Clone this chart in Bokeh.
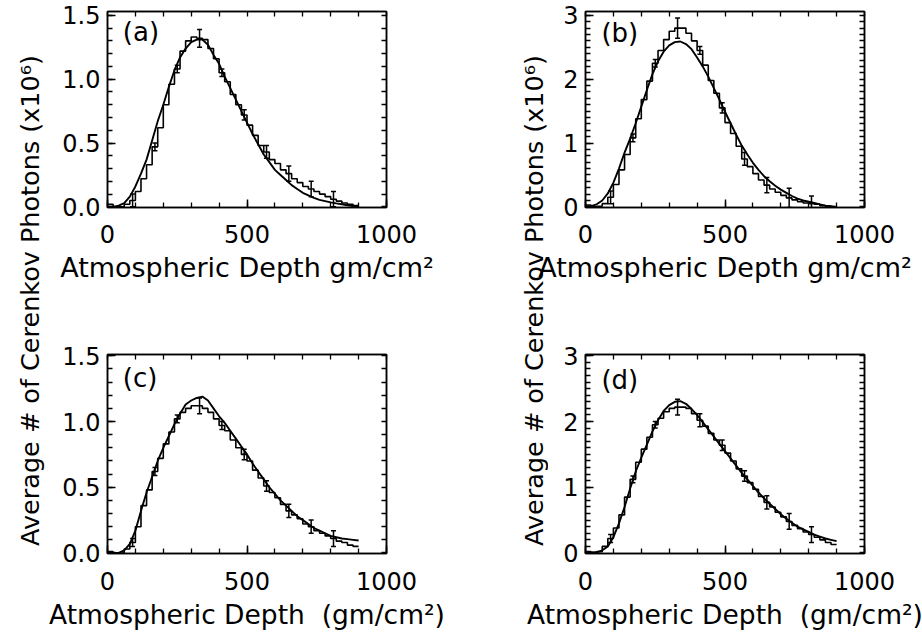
from bokeh.plotting import figure
from bokeh.layouts import row, column
from bokeh.models import (Range1d, LinearAxis, Label, Whisker, ColumnDataSource,
                          TeeHead, SingleIntervalTicker, FixedTicker, PrintfTickFormatter)
from bokeh.embed import file_html
from bokeh.resources import INLINE

FONT = "DejaVu Sans"

# ---------------- data ----------------
bin_edges = list(range(0, 920, 20))          # 0 .. 900, bins of 20 gm/cm^2
curve_depth = list(range(0, 920, 20))        # 0 .. 900
errbar_depth = [90, 170, 250, 330, 410, 490, 570, 650, 730, 810]

hist_a = [0.02, 0.0, 0.0, 0.02, 0.05, 0.12, 0.22, 0.33, 0.47, 0.62, 0.80, 0.96, 1.08, 1.22, 1.30,
          1.33, 1.32, 1.31, 1.24, 1.16, 1.05, 0.98, 0.88, 0.80, 0.72, 0.64, 0.56, 0.48, 0.43, 0.37,
          0.34, 0.29, 0.26, 0.22, 0.19, 0.16, 0.14, 0.12, 0.10, 0.08, 0.06, 0.045, 0.03, 0.02, 0.01]
curve_a = [0.0, 0.0, 0.01, 0.03, 0.08, 0.16, 0.26, 0.37, 0.52, 0.67, 0.80, 0.94, 1.07, 1.17, 1.24,
           1.29, 1.31, 1.31, 1.27, 1.19, 1.12, 1.02, 0.93, 0.84, 0.75, 0.66, 0.57, 0.49, 0.41, 0.35,
           0.29, 0.25, 0.21, 0.17, 0.14, 0.11, 0.09, 0.07, 0.055, 0.045, 0.035, 0.027, 0.02, 0.013,
           0.007, 0.0]
err_a = [0.05, 0.03, 0.03, 0.07, 0.03, 0.04, 0.05, 0.06, 0.06, 0.06]

hist_b = [0.03, 0.0, 0.01, 0.05, 0.15, 0.35, 0.58, 0.82, 1.08, 1.38, 1.68, 1.97, 2.25, 2.45, 2.62,
          2.75, 2.80, 2.80, 2.72, 2.60, 2.45, 2.22, 1.98, 1.78, 1.55, 1.32, 1.15, 0.95, 0.75, 0.63,
          0.52, 0.42, 0.34, 0.28, 0.23, 0.18, 0.14, 0.11, 0.08, 0.06, 0.05, 0.04, 0.02, 0.01, 0.0]
curve_b = [0.0, 0.01, 0.04, 0.10, 0.21, 0.38, 0.60, 0.85, 1.07, 1.31, 1.57, 1.83, 2.08, 2.28, 2.43,
           2.53, 2.58, 2.59, 2.55, 2.47, 2.34, 2.20, 2.04, 1.86, 1.68, 1.49, 1.31, 1.13, 0.96, 0.82,
           0.69, 0.58, 0.48, 0.40, 0.33, 0.27, 0.22, 0.17, 0.13, 0.10, 0.08, 0.06, 0.04, 0.02, 0.01,
           0.0]
err_b = [0.10, 0.06, 0.06, 0.16, 0.06, 0.08, 0.10, 0.12, 0.15, 0.12]

hist_c = [0.01, 0.0, 0.0, 0.03, 0.08, 0.20, 0.36, 0.48, 0.62, 0.72, 0.83, 0.92, 1.02, 1.07, 1.10,
          1.12, 1.12, 1.10, 1.07, 1.02, 0.97, 0.93, 0.86, 0.80, 0.75, 0.70, 0.63, 0.57, 0.51, 0.46,
          0.42, 0.37, 0.32, 0.29, 0.26, 0.22, 0.20, 0.17, 0.15, 0.13, 0.11, 0.09, 0.08, 0.06, 0.05]
curve_c = [0.0, 0.0, 0.0, 0.02, 0.07, 0.17, 0.32, 0.46, 0.58, 0.70, 0.80, 0.89, 0.98, 1.06, 1.13,
           1.16, 1.18, 1.19, 1.16, 1.10, 1.04, 0.99, 0.93, 0.87, 0.81, 0.75, 0.68, 0.62, 0.56, 0.50,
           0.45, 0.40, 0.36, 0.32, 0.28, 0.25, 0.22, 0.19, 0.17, 0.15, 0.13, 0.12, 0.11, 0.105, 0.10,
           0.095]
err_c = [0.03, 0.03, 0.03, 0.06, 0.03, 0.04, 0.04, 0.05, 0.05, 0.06]

hist_d = [0.02, 0.01, 0.02, 0.10, 0.22, 0.38, 0.58, 0.85, 1.12, 1.38, 1.58, 1.76, 1.95, 2.05, 2.15,
          2.20, 2.22, 2.22, 2.20, 2.12, 2.02, 1.93, 1.82, 1.72, 1.64, 1.52, 1.40, 1.28, 1.17, 1.07,
          0.97, 0.86, 0.77, 0.70, 0.62, 0.55, 0.48, 0.42, 0.37, 0.32, 0.28, 0.24, 0.20, 0.16, 0.13]
curve_d = [0.0, 0.0, 0.01, 0.04, 0.10, 0.24, 0.45, 0.70, 0.98, 1.24, 1.45, 1.65, 1.85, 2.02, 2.16,
           2.25, 2.30, 2.31, 2.27, 2.19, 2.10, 1.99, 1.88, 1.77, 1.66, 1.55, 1.44, 1.33, 1.22, 1.12,
           1.02, 0.92, 0.83, 0.75, 0.67, 0.59, 0.52, 0.46, 0.40, 0.36, 0.32, 0.28, 0.25, 0.22, 0.20,
           0.18]
err_d = [0.06, 0.05, 0.05, 0.12, 0.10, 0.08, 0.08, 0.10, 0.12, 0.12]

panel_tags = ["(a)", "(b)", "(c)", "(d)"]
xtitle_top = "Atmospheric Depth gm/cm²"
xtitle_bottom = "Atmospheric Depth\u00a0\u00a0(gm/cm²)"
ytitle = "Average # of Cerenkov Photons (x10⁶)"

x_minor = [i * 100 for i in range(11)]
y_minor_small = [round(i * 0.1, 1) for i in range(16)]
y_minor_big = [round(i * 0.1, 1) for i in range(31)]


def mirror_axis(minors):
    # tick marks only (IDL-style box ticks on the top / right edges)
    return LinearAxis(ticker=FixedTicker(ticks=[], minor_ticks=minors),
                      major_tick_in=0, major_tick_out=0, minor_tick_in=5, minor_tick_out=0,
                      major_label_standoff=0, axis_line_width=1.5, minor_tick_line_width=1.3)


def panel(width, height, borders, yr, yint, ynminor, yfmt, yminors, hist, curve, err, tag,
          tag_xy, xtitle, xtitle_size, lab_standoff, title_standoff):
    bl, br, bt, bb = borders
    p = figure(width=width, height=height, x_range=Range1d(0, 1000), y_range=Range1d(*yr),
               output_backend="svg", toolbar_location=None,
               min_border_left=bl, min_border_right=br, min_border_top=bt, min_border_bottom=bb,
               x_axis_type=None, y_axis_type=None)
    p.grid.visible = False
    p.outline_line_color = "black"
    p.outline_line_width = 1.5
    p.border_fill_alpha = 0.0

    xt = SingleIntervalTicker(interval=500, num_minor_ticks=5)
    yt = SingleIntervalTicker(interval=yint, num_minor_ticks=ynminor)

    xa = LinearAxis(ticker=xt, axis_label=xtitle,
                    major_label_text_font=FONT, major_label_text_font_size="24px",
                    axis_label_text_font=FONT, axis_label_text_font_size=xtitle_size,
                    axis_label_text_font_style="normal",
                    major_label_standoff=lab_standoff, axis_label_standoff=title_standoff,
                    major_tick_in=8, major_tick_out=0, minor_tick_in=5, minor_tick_out=0,
                    axis_line_width=1.5, major_tick_line_width=1.5, minor_tick_line_width=1.3,
                    major_label_text_color="black", axis_label_text_color="black")
    ya = LinearAxis(ticker=yt, formatter=yfmt,
                    major_label_text_font=FONT, major_label_text_font_size="24px",
                    major_label_standoff=7,
                    major_tick_in=8, major_tick_out=0, minor_tick_in=5, minor_tick_out=0,
                    axis_line_width=1.5, major_tick_line_width=1.5, minor_tick_line_width=1.3,
                    major_label_text_color="black")
    p.add_layout(xa, "below")
    p.add_layout(ya, "left")
    p.add_layout(mirror_axis(x_minor), "above")
    p.add_layout(mirror_axis(yminors), "right")

    # histogram
    p.step(x=bin_edges, y=hist + [hist[-1]], mode="after", line_color="black", line_width=1.6)
    # smooth fit curve
    p.line(x=curve_depth, y=curve, line_color="black", line_width=1.9)
    # error bars
    centers = [b + 10 for b in bin_edges[:-1]]
    vals = [hist[centers.index(d)] for d in errbar_depth]
    src = ColumnDataSource(dict(base=errbar_depth,
                                lower=[v - e for v, e in zip(vals, err)],
                                upper=[v + e for v, e in zip(vals, err)]))
    w = Whisker(source=src, base="base", lower="lower", upper="upper", line_color="black",
                line_width=1.5,
                upper_head=TeeHead(size=5, line_color="black", line_width=1.5),
                lower_head=TeeHead(size=5, line_color="black", line_width=1.5))
    p.add_layout(w)

    p.add_layout(Label(x=tag_xy[0], y=tag_xy[1], text=tag, text_font=FONT,
                       text_font_size="26px", text_baseline="middle", text_color="black"))
    return p


def strip(width, height, cx, cy):
    s = figure(width=width, height=height, x_range=Range1d(0, width), y_range=Range1d(0, height),
               output_backend="svg", toolbar_location=None, min_border=0,
               x_axis_type=None, y_axis_type=None)
    s.grid.visible = False
    s.outline_line_color = None
    s.add_layout(Label(x=cx, y=cy, text=ytitle, angle=90, angle_units="deg",
                       text_align="center", text_baseline="middle", text_font=FONT,
                       text_font_size="25.5px", text_color="black"))
    return s


fmt1 = PrintfTickFormatter(format="%.1f")
fmt0 = PrintfTickFormatter(format="%d")

pa = panel(518, 300, (107, 132, 11, 93), (-0.005, 1.53), 0.5, 5, fmt1, y_minor_small,
           hist_a, curve_a, err_a, panel_tags[0], (55, 1.37), xtitle_top, "27px", 17, 6)
pc = panel(518, 332, (107, 132, 54, 79), (-0.004, 1.51), 0.5, 5, fmt1, y_minor_small,
           hist_c, curve_c, err_c, panel_tags[2], (55, 1.33), xtitle_bottom, "26.5px", 18, 6)
pb = panel(404, 300, (67, 58, 11, 93), (-0.01, 3.06), 1, 10, fmt0, y_minor_big,
           hist_b, curve_b, err_b, panel_tags[1], (57, 2.72), xtitle_top, "27px", 17, 6)
pd = panel(404, 332, (67, 58, 54, 79), (-0.008, 3.02), 1, 10, fmt0, y_minor_big,
           hist_d, curve_d, err_d, panel_tags[3], (57, 2.63), xtitle_bottom, "26.5px", 18, 6)

sl = strip(50, 632, 29, 332)
sl.margin = (0, -50, 0, 0)
sr = strip(30, 632, 15, 332)
sr.margin = (0, -30, 0, 0)

layout = row(sl, column(pa, pc), sr, column(pb, pd))

open("out.html", "w").write(file_html(layout, INLINE))
